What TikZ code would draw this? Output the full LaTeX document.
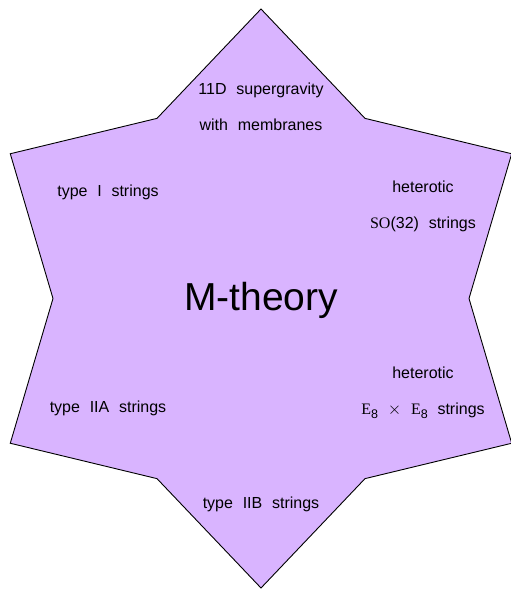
\documentclass[tikz,border=0pt]{standalone}
\usepackage{fontspec}
\setmainfont{Liberation Sans}[WordSpace=2.2]
\newfontfamily\grpfont{Liberation Serif}
\usepackage{xcolor}
\usepackage{tikz}
\usetikzlibrary{positioning}
\definecolor{mlilac}{RGB}{217,180,255}
\tikzset{
    mstar/.style={draw, fill=mlilac, line width=0.9pt, line join=miter},
    theory/.style={align=center, font=\fontsize{16}{36}\selectfont},
    bigname/.style={font=\fontsize{39}{44}\selectfont},
}
\newcommand{\outr}{289.5}
\newcommand{\inr}{208}
\newcommand{\esub}{{\grpfont E}\raisebox{-3.5pt}{\fontsize{12.5}{13}\selectfont 8}}

\begin{document}
\begin{tikzpicture}[x=1pt, y=1pt]
            \useasboundingbox (-261,-291.5) rectangle (250,298.5);
            % six-pointed star, outer and inner corners alternate
            \draw[mstar] (90:\outr) -- (120:\inr) -- (150:\outr) -- (180:\inr)
                -- (210:\outr) -- (240:\inr) -- (270:\outr) -- (300:\inr)
                -- (330:\outr) -- (0:\inr) -- (30:\outr) -- (60:\inr) -- cycle;

            \node[bigname]          (mth)   at (0,-1.5)     {M-theory};
            \node[theory]           (sugra) at (0,191.5)    {11D supergravity\\with membranes};
            \node[theory]           (typei) at (-153,106.5) {type I strings};
            \node[theory]           (hso)   at (162,92.5)   {heterotic\\{\grpfont SO}(32) strings};
            \node[theory]           (hee)   at (162,-94.5)  {heterotic\\\esub{} $\times$ \esub{} strings};
            \node[theory]           (iia)   at (-153,-109.5) {type IIA strings};
            \node[theory]           (iib)   at (0,-205.5)   {type IIB strings};
        \end{tikzpicture}
\end{document}
